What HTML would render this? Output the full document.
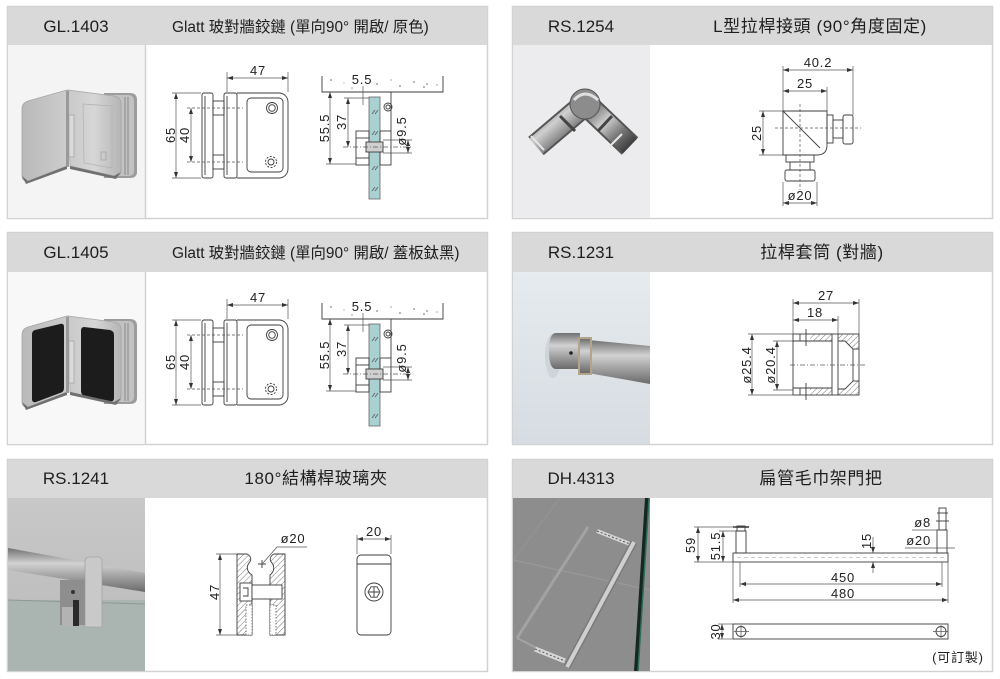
<!DOCTYPE html>
<html><head><meta charset="utf-8"><style>
html,body{margin:0;padding:0;background:#fff;}
body{width:1000px;height:679px;overflow:hidden;position:relative;}
svg{position:absolute;left:0;top:0;}
.h{font-family:"Liberation Sans","Noto Sans CJK TC",sans-serif;font-size:17px;fill:#1e1e1e;}
.d{font-family:"Liberation Sans","Noto Sans CJK TC",sans-serif;font-size:13px;fill:#222;letter-spacing:0.8px;}
.o{fill:none;stroke:#3c3c3c;stroke-width:0.9;}
.m{fill:none;stroke:#555;stroke-width:0.7;}
.c{fill:none;stroke:#555;stroke-width:0.7;stroke-dasharray:5,2,1,2;}
.k{fill:none;stroke:#555;stroke-width:0.7;stroke-dasharray:3,2;}
</style></head><body>
<svg width="1000" height="679" viewBox="0 0 1000 679">
<defs>
<marker id="a" viewBox="0 0 6 4" refX="6" refY="2" markerWidth="6" markerHeight="4" orient="auto-start-reverse" markerUnits="userSpaceOnUse"><path d="M0,0 L6,2 L0,4z" fill="#333"/></marker>
<pattern id="hp" width="4" height="4" patternUnits="userSpaceOnUse" patternTransform="rotate(45)"><rect width="4" height="4" fill="#fff"/><line x1="0" y1="0" x2="0" y2="4" stroke="#555" stroke-width="0.8"/></pattern>
<linearGradient id="st1" x1="0" y1="0" x2="1" y2="0"><stop offset="0" stop-color="#c9c9c9"/><stop offset="0.5" stop-color="#d6d6d6"/><stop offset="1" stop-color="#b5b5b5"/></linearGradient>
<linearGradient id="st2" x1="0" y1="0" x2="1" y2="0"><stop offset="0" stop-color="#b9b9b9"/><stop offset="1" stop-color="#cdcdcd"/></linearGradient>
<linearGradient id="rod" x1="0" y1="0" x2="0" y2="1"><stop offset="0" stop-color="#707070"/><stop offset="0.35" stop-color="#d2d2d2"/><stop offset="0.6" stop-color="#a9a9a9"/><stop offset="1" stop-color="#6a6a6a"/></linearGradient>
<linearGradient id="bg4" x1="0" y1="0" x2="0" y2="1"><stop offset="0" stop-color="#e6ebef"/><stop offset="1" stop-color="#d6dce1"/></linearGradient>
<linearGradient id="bg5" x1="0" y1="0" x2="0" y2="1"><stop offset="0" stop-color="#c8c8c8"/><stop offset="1" stop-color="#b9b9b9"/></linearGradient>
<linearGradient id="chr" x1="0" y1="0" x2="1" y2="1"><stop offset="0" stop-color="#5e5e5e"/><stop offset="0.4" stop-color="#cfcfcf"/><stop offset="0.7" stop-color="#7a7a7a"/><stop offset="1" stop-color="#3e3e3e"/></linearGradient>
</defs>

<!-- ============ PANELS ============ -->
<g>
<rect x="7.5" y="6.5" width="480" height="212" fill="#fff" stroke="#d2d2d2" stroke-width="1.5"/>
<rect x="8" y="7" width="479" height="38" fill="#d9d9d9"/>
<rect x="8" y="45" width="137" height="173" fill="#f4f4f4"/>
<line x1="145.5" y1="45" x2="145.5" y2="218" stroke="#d2d2d2" stroke-width="1.5"/>

<rect x="512.5" y="6.5" width="480" height="212" fill="#fff" stroke="#d2d2d2" stroke-width="1.5"/>
<rect x="513" y="7" width="479" height="38" fill="#d9d9d9"/>
<rect x="513" y="45" width="137" height="173" fill="#ececee"/>

<rect x="7.5" y="232.5" width="480" height="212" fill="#fff" stroke="#d2d2d2" stroke-width="1.5"/>
<rect x="8" y="233" width="479" height="39" fill="#d9d9d9"/>
<rect x="8" y="272" width="137" height="172" fill="#f8f8f8"/>
<line x1="145.5" y1="272" x2="145.5" y2="444" stroke="#d2d2d2" stroke-width="1.5"/>

<rect x="512.5" y="232.5" width="480" height="212" fill="#fff" stroke="#d2d2d2" stroke-width="1.5"/>
<rect x="513" y="233" width="479" height="39" fill="#d9d9d9"/>
<rect x="513" y="272" width="137" height="172" fill="url(#bg4)"/>

<rect x="7.5" y="459.5" width="480" height="212" fill="#fff" stroke="#d2d2d2" stroke-width="1.5"/>
<rect x="8" y="460" width="479" height="38" fill="#d9d9d9"/>
<rect x="8" y="498" width="137" height="173" fill="url(#bg5)"/>

<rect x="512.5" y="459.5" width="480" height="212" fill="#fff" stroke="#d2d2d2" stroke-width="1.5"/>
<rect x="513" y="460" width="479" height="38" fill="#d9d9d9"/>
<rect x="513" y="498" width="137" height="173" fill="#8d8d8d"/>
</g>

<!-- ============ HEADERS ============ -->
<text class="h" x="76" y="32" text-anchor="middle">GL.1403</text>
<text class="h" x="172" y="32" style="font-size:15.4px">Glatt 玻對牆鉸鏈 (單向90° 開啟/ 原色)</text>
<text class="h" x="581" y="32" text-anchor="middle">RS.1254</text>
<text class="h" x="820" y="32" text-anchor="middle" style="letter-spacing:0.6px">L型拉桿接頭 (90°角度固定)</text>

<text class="h" x="76" y="258" text-anchor="middle">GL.1405</text>
<text class="h" x="172" y="258" style="font-size:15.4px">Glatt 玻對牆鉸鏈 (單向90° 開啟/ 蓋板鈦黑)</text>
<text class="h" x="581" y="258" text-anchor="middle">RS.1231</text>
<text class="h" x="822" y="258" text-anchor="middle" style="letter-spacing:0.6px">拉桿套筒 (對牆)</text>

<text class="h" x="76" y="484" text-anchor="middle">RS.1241</text>
<text class="h" x="316" y="484" text-anchor="middle" style="letter-spacing:0.6px">180°結構桿玻璃夾</text>
<text class="h" x="581" y="484" text-anchor="middle">DH.4313</text>
<text class="h" x="821" y="484" text-anchor="middle" style="letter-spacing:0.6px">扁管毛巾架門把</text>

<!-- ============ PHOTO 1: GL.1403 hinge ============ -->
<g>
<path d="M104,93 H130 Q137,93 137,100 V172 Q137,178 130,178 H104 Z" fill="#9c9c9c"/>
<path d="M106,95 H128 Q134,95 134,101 V171 Q134,176 128,176 H106 Z" fill="#c2c2c2"/>
<line x1="125" y1="97" x2="125" y2="175" stroke="#8a8a8a"/>
<line x1="128" y1="97" x2="128" y2="175" stroke="#8a8a8a"/>
<path d="M68,90 L114,96 Q121,97 121,104 V170 Q121,177 114,176 L70,166 Z" fill="url(#st1)" stroke="#a5a5a5" stroke-width="0.8"/>
<path d="M83,104 L112,106 V168 L84,163 Z" fill="none" stroke="#b0b0b0" stroke-width="0.7"/>
<path d="M67,90 L28,101 Q22,103 22,109 V175 Q22,182 28,181 L67,166 Z" fill="url(#st2)" stroke="#a5a5a5" stroke-width="0.8"/>
<path d="M22,176 L26,184 L67,169 L67,166 L28,181 Z" fill="#707070"/>
<path d="M70,166 L70,169 L116,179 L121,172 L114,176 Z" fill="#707070"/>
<rect x="66" y="91" width="3" height="76" fill="#9a9a9a"/>
<rect x="69" y="115" width="5" height="42" fill="#dadada" stroke="#999" stroke-width="0.6"/>
<rect x="101" y="152" width="5" height="8" fill="none" stroke="#999" stroke-width="0.6"/>
</g>

<!-- ============ PHOTO 3: GL.1405 hinge (black) ============ -->
<g transform="translate(0,226)">
<path d="M104,93 H130 Q137,93 137,100 V172 Q137,178 130,178 H104 Z" fill="#9c9c9c"/>
<path d="M106,95 H128 Q134,95 134,101 V171 Q134,176 128,176 H106 Z" fill="#c2c2c2"/>
<line x1="125" y1="97" x2="125" y2="175" stroke="#8a8a8a"/>
<line x1="128" y1="97" x2="128" y2="175" stroke="#8a8a8a"/>
<path d="M68,90 L114,96 Q121,97 121,104 V170 Q121,177 114,176 L70,166 Z" fill="url(#st1)" stroke="#a5a5a5" stroke-width="0.8"/>
<path d="M84,101 L110,104 Q114,105 114,109 V172 Q114,176 110,175 L85,170 Q81,169 81,165 V105 Q81,101 84,101 Z" fill="#1c1c1c"/>
<path d="M67,90 L28,101 Q22,103 22,109 V175 Q22,182 28,181 L67,166 Z" fill="url(#st2)" stroke="#a5a5a5" stroke-width="0.8"/>
<path d="M35,104 L60,98 Q64,97 64,101 V162 Q64,166 60,167 L36,176 Q32,177 32,173 V108 Q32,105 35,104 Z" fill="#1c1c1c"/>
<path d="M22,176 L26,184 L67,169 L67,166 L28,181 Z" fill="#707070"/>
<path d="M70,166 L70,169 L116,179 L121,172 L114,176 Z" fill="#707070"/>
<rect x="66" y="91" width="3" height="76" fill="#9a9a9a"/>
<rect x="69" y="115" width="5" height="42" fill="#dadada" stroke="#999" stroke-width="0.6"/>
</g>

<!-- ============ PHOTO 2: RS.1254 elbow ============ -->
<g>
<line x1="583" y1="106" x2="536" y2="146" stroke="#555" stroke-width="24"/>
<line x1="583" y1="106" x2="536" y2="146" stroke="url(#chr)" stroke-width="20"/>
<line x1="588" y1="106" x2="630" y2="146" stroke="#555" stroke-width="24"/>
<line x1="588" y1="106" x2="630" y2="146" stroke="url(#chr)" stroke-width="20"/>
<circle cx="585" cy="104" r="15" fill="#8c8c8c" stroke="#555"/>
<path d="M574,100 Q585,88 598,100" fill="none" stroke="#e0e0e0" stroke-width="3"/>
<line x1="560" y1="116" x2="575" y2="131" stroke="#444" stroke-width="3"/>
<line x1="612" y1="116" x2="598" y2="131" stroke="#444" stroke-width="3"/>
<line x1="531" y1="136" x2="544" y2="150" stroke="#e6e6e6" stroke-width="2"/>
<line x1="622" y1="134" x2="609" y2="147" stroke="#e6e6e6" stroke-width="2"/>
</g>

<!-- ============ PHOTO 4: RS.1231 sleeve ============ -->
<g>
<ellipse cx="553" cy="356" rx="8" ry="22" fill="#c8ced3" opacity="0.7"/>
<path d="M588,340 L650,346 L650,384 L588,373 Z" fill="url(#rod)"/>
<path d="M556,333 H580 V369 H556 Q549,369 549,351 Q549,333 556,333 Z" fill="url(#rod)"/>
<path d="M578,337 H592 V375 H578 Z" fill="#b3a58c"/>
<rect x="580" y="339" width="10" height="34" fill="url(#rod)"/>
<circle cx="571" cy="353" r="1.8" fill="#222"/>
</g>

<!-- ============ PHOTO 5: RS.1241 clamp ============ -->
<g>
<rect x="8" y="600" width="137" height="71" fill="#aab4b1"/>
<line x1="8" y1="600" x2="145" y2="604" stroke="#8f9896" stroke-width="1"/>
<path d="M8,548 L145,573 L145,592 L8,570 Z" fill="url(#rod)"/>
<rect x="60" y="580" width="25" height="45" fill="#8e8e8e"/>
<rect x="62" y="607" width="11" height="19" fill="#b3b3b3"/>
<rect x="73" y="600" width="6" height="26" fill="#2a2a2a"/>
<path d="M85,562 Q85,557 90,557 H98 Q102,557 102,562 V627 H85 Z" fill="#c9c9c9" stroke="#999" stroke-width="0.6"/>
<circle cx="73" cy="592" r="2" fill="#333"/>
</g>

<!-- ============ PHOTO 6: DH.4313 handle ============ -->
<g>
<line x1="513" y1="560" x2="650" y2="590" stroke="#9a9a9a" stroke-width="1"/>
<line x1="560" y1="498" x2="513" y2="560" stroke="#959595" stroke-width="1"/>
<line x1="588" y1="527" x2="517" y2="638" stroke="#a3a3a3" stroke-width="3"/>
<line x1="517" y1="638" x2="560" y2="660" stroke="#a3a3a3" stroke-width="2"/>
<line x1="597" y1="531" x2="630" y2="544" stroke="#d6d6d6" stroke-width="4"/>
<line x1="597" y1="531" x2="630" y2="544" stroke="#555" stroke-width="1" stroke-dasharray="2,2"/>
<line x1="535" y1="649" x2="565" y2="661" stroke="#d6d6d6" stroke-width="5"/>
<line x1="535" y1="649" x2="565" y2="661" stroke="#555" stroke-width="1" stroke-dasharray="2,2"/>
<line x1="634" y1="542" x2="567" y2="667" stroke="#7a7a7a" stroke-width="7"/>
<line x1="634" y1="542" x2="567" y2="667" stroke="#cfcfcf" stroke-width="4"/>
<line x1="647" y1="498" x2="636" y2="671" stroke="#15271f" stroke-width="4"/>
<line x1="649" y1="498" x2="638" y2="671" stroke="#2c6b55" stroke-width="1.5"/>
</g>

<!-- ============ DRAWING: GL.1403 (row 1) ============ -->
<g>
<rect class="o" x="202" y="93" width="11" height="85" rx="2"/>
<line class="o" x1="205" y1="96" x2="205" y2="175"/>
<rect class="o" x="213" y="101" width="11" height="14"/>
<rect class="o" x="213" y="155" width="11" height="14"/>
<rect class="o" x="224" y="93" width="13" height="85" rx="2"/>
<line class="o" x1="227" y1="96" x2="227" y2="175"/>
<path class="o" d="M237,93 H279 A9,9 0 0 1 288,102 V169 A9,9 0 0 1 279,178 H237"/>
<rect class="o" x="247" y="98" width="36" height="74" rx="4"/>
<circle class="o" cx="272" cy="108" r="5.5"/><circle class="o" cx="272" cy="108" r="3.3"/>
<circle class="o" cx="271" cy="162" r="5.5" stroke-dasharray="2,1.5"/><circle class="o" cx="271" cy="162" r="3"/>
<line class="m" x1="227" y1="72" x2="227" y2="92"/>
<line class="m" x1="288" y1="72" x2="288" y2="92"/>
<line class="m" x1="227" y1="78" x2="288" y2="78" marker-start="url(#a)" marker-end="url(#a)"/>
<text class="d" x="258" y="75" text-anchor="middle">47</text>
<line class="m" x1="172" y1="93" x2="201" y2="93"/>
<line class="m" x1="172" y1="178" x2="201" y2="178"/>
<line class="m" x1="176" y1="93" x2="176" y2="178" marker-start="url(#a)" marker-end="url(#a)"/>
<text class="d" transform="translate(175,135) rotate(-90)" text-anchor="middle">65</text>
<line class="k" x1="187" y1="108" x2="243" y2="108"/>
<line class="k" x1="187" y1="162" x2="243" y2="162"/>
<line class="m" x1="191" y1="108" x2="191" y2="162" marker-start="url(#a)" marker-end="url(#a)"/>
<text class="d" transform="translate(189,135) rotate(-90)" text-anchor="middle">40</text>
<path class="o" d="M322,76 V92 H443 V76"/>
<g fill="#666"><circle cx="331" cy="80" r="0.8"/><circle cx="377" cy="84" r="0.8"/><circle cx="400" cy="86" r="0.8"/><circle cx="414" cy="82" r="0.8"/><circle cx="424" cy="87" r="0.8"/><circle cx="427" cy="84" r="0.8"/><circle cx="352" cy="88" r="0.6"/><circle cx="391" cy="80" r="0.6"/><circle cx="437" cy="85" r="0.6"/><circle cx="344" cy="83" r="0.5"/></g>
<rect x="369" y="97" width="11" height="102" fill="#a9d1d1" stroke="#666" stroke-width="0.8"/>
<g stroke="#555" stroke-width="0.7"><line x1="372" y1="114" x2="375" y2="110"/><line x1="375" y1="114" x2="378" y2="110"/><line x1="372" y1="135" x2="375" y2="131"/><line x1="375" y1="135" x2="378" y2="131"/><line x1="372" y1="170" x2="375" y2="166"/><line x1="375" y1="170" x2="378" y2="166"/><line x1="372" y1="191" x2="375" y2="187"/><line x1="375" y1="191" x2="378" y2="187"/></g>
<circle class="o" cx="388" cy="107" r="4"/><circle class="o" cx="388" cy="107" r="2"/>
<line class="o" x1="391" y1="92" x2="391" y2="131"/>
<rect class="o" x="380" y="131" width="11" height="34"/>
<rect class="o" x="356" y="131" width="13" height="34"/>
<line class="o" x1="356" y1="138" x2="369" y2="138"/>
<line class="o" x1="356" y1="158" x2="369" y2="158"/>
<rect x="366" y="142" width="17" height="10" fill="#d0d0d0" stroke="#3c3c3c" stroke-width="0.9"/>
<line class="c" x1="343" y1="147" x2="413" y2="147"/>
<line class="m" x1="326" y1="164" x2="356" y2="164"/>
<line class="m" x1="330" y1="92" x2="330" y2="164" marker-start="url(#a)" marker-end="url(#a)"/>
<text class="d" transform="translate(329,128) rotate(-90)" text-anchor="middle">55.5</text>
<line class="m" x1="344" y1="98" x2="369" y2="98"/>
<line class="m" x1="348" y1="98" x2="348" y2="147" marker-start="url(#a)" marker-end="url(#a)"/>
<text class="d" transform="translate(346,122) rotate(-90)" text-anchor="middle">37</text>
<line class="m" x1="363" y1="86" x2="363" y2="105"/>
<text class="d" x="362" y="84" text-anchor="middle">5.5</text>
<line class="m" x1="383" y1="140" x2="412" y2="140"/>
<line class="m" x1="383" y1="153" x2="412" y2="153"/>
<line class="m" x1="408" y1="140" x2="408" y2="153" marker-start="url(#a)" marker-end="url(#a)"/>
<text class="d" transform="translate(406,131) rotate(-90)" text-anchor="middle">ø9.5</text>
</g>

<!-- ============ DRAWING: GL.1405 (row 2) ============ -->
<g transform="translate(0,227)">
<rect class="o" x="202" y="93" width="11" height="85" rx="2"/>
<line class="o" x1="205" y1="96" x2="205" y2="175"/>
<rect class="o" x="213" y="101" width="11" height="14"/>
<rect class="o" x="213" y="155" width="11" height="14"/>
<rect class="o" x="224" y="93" width="13" height="85" rx="2"/>
<line class="o" x1="227" y1="96" x2="227" y2="175"/>
<path class="o" d="M237,93 H279 A9,9 0 0 1 288,102 V169 A9,9 0 0 1 279,178 H237"/>
<rect class="o" x="247" y="98" width="36" height="74" rx="4"/>
<circle class="o" cx="272" cy="108" r="5.5"/><circle class="o" cx="272" cy="108" r="3.3"/>
<circle class="o" cx="271" cy="162" r="5.5" stroke-dasharray="2,1.5"/><circle class="o" cx="271" cy="162" r="3"/>
<line class="m" x1="227" y1="72" x2="227" y2="92"/>
<line class="m" x1="288" y1="72" x2="288" y2="92"/>
<line class="m" x1="227" y1="78" x2="288" y2="78" marker-start="url(#a)" marker-end="url(#a)"/>
<text class="d" x="258" y="75" text-anchor="middle">47</text>
<line class="m" x1="172" y1="93" x2="201" y2="93"/>
<line class="m" x1="172" y1="178" x2="201" y2="178"/>
<line class="m" x1="176" y1="93" x2="176" y2="178" marker-start="url(#a)" marker-end="url(#a)"/>
<text class="d" transform="translate(175,135) rotate(-90)" text-anchor="middle">65</text>
<line class="k" x1="187" y1="108" x2="243" y2="108"/>
<line class="k" x1="187" y1="162" x2="243" y2="162"/>
<line class="m" x1="191" y1="108" x2="191" y2="162" marker-start="url(#a)" marker-end="url(#a)"/>
<text class="d" transform="translate(189,135) rotate(-90)" text-anchor="middle">40</text>
<path class="o" d="M322,76 V92 H443 V76"/>
<g fill="#666"><circle cx="331" cy="80" r="0.8"/><circle cx="377" cy="84" r="0.8"/><circle cx="400" cy="86" r="0.8"/><circle cx="414" cy="82" r="0.8"/><circle cx="424" cy="87" r="0.8"/><circle cx="427" cy="84" r="0.8"/><circle cx="352" cy="88" r="0.6"/><circle cx="391" cy="80" r="0.6"/><circle cx="437" cy="85" r="0.6"/><circle cx="344" cy="83" r="0.5"/></g>
<rect x="369" y="97" width="11" height="102" fill="#a9d1d1" stroke="#666" stroke-width="0.8"/>
<g stroke="#555" stroke-width="0.7"><line x1="372" y1="114" x2="375" y2="110"/><line x1="375" y1="114" x2="378" y2="110"/><line x1="372" y1="135" x2="375" y2="131"/><line x1="375" y1="135" x2="378" y2="131"/><line x1="372" y1="170" x2="375" y2="166"/><line x1="375" y1="170" x2="378" y2="166"/><line x1="372" y1="191" x2="375" y2="187"/><line x1="375" y1="191" x2="378" y2="187"/></g>
<circle class="o" cx="388" cy="107" r="4"/><circle class="o" cx="388" cy="107" r="2"/>
<line class="o" x1="391" y1="92" x2="391" y2="131"/>
<rect class="o" x="380" y="131" width="11" height="34"/>
<rect class="o" x="356" y="131" width="13" height="34"/>
<line class="o" x1="356" y1="138" x2="369" y2="138"/>
<line class="o" x1="356" y1="158" x2="369" y2="158"/>
<rect x="366" y="142" width="17" height="10" fill="#d0d0d0" stroke="#3c3c3c" stroke-width="0.9"/>
<line class="c" x1="343" y1="147" x2="413" y2="147"/>
<line class="m" x1="326" y1="164" x2="356" y2="164"/>
<line class="m" x1="330" y1="92" x2="330" y2="164" marker-start="url(#a)" marker-end="url(#a)"/>
<text class="d" transform="translate(329,128) rotate(-90)" text-anchor="middle">55.5</text>
<line class="m" x1="344" y1="98" x2="369" y2="98"/>
<line class="m" x1="348" y1="98" x2="348" y2="147" marker-start="url(#a)" marker-end="url(#a)"/>
<text class="d" transform="translate(346,122) rotate(-90)" text-anchor="middle">37</text>
<line class="m" x1="363" y1="86" x2="363" y2="105"/>
<text class="d" x="362" y="84" text-anchor="middle">5.5</text>
<line class="m" x1="383" y1="140" x2="412" y2="140"/>
<line class="m" x1="383" y1="153" x2="412" y2="153"/>
<line class="m" x1="408" y1="140" x2="408" y2="153" marker-start="url(#a)" marker-end="url(#a)"/>
<text class="d" transform="translate(406,131) rotate(-90)" text-anchor="middle">ø9.5</text>
</g>

<!-- ============ DRAWING: RS.1254 ============ -->
<g>
<line class="m" x1="783" y1="66" x2="783" y2="111"/>
<line class="m" x1="853" y1="66" x2="853" y2="115"/>
<line class="m" x1="827" y1="87" x2="827" y2="111"/>
<line class="m" x1="783" y1="70" x2="853" y2="70" marker-start="url(#a)" marker-end="url(#a)"/>
<text class="d" x="818" y="67" text-anchor="middle">40.2</text>
<line class="m" x1="783" y1="91" x2="827" y2="91" marker-start="url(#a)" marker-end="url(#a)"/>
<text class="d" x="805" y="88" text-anchor="middle">25</text>
<line class="m" x1="759" y1="111" x2="783" y2="111"/>
<line class="m" x1="759" y1="155" x2="783" y2="155"/>
<line class="m" x1="763" y1="111" x2="763" y2="155" marker-start="url(#a)" marker-end="url(#a)"/>
<text class="d" transform="translate(761,133) rotate(-90)" text-anchor="middle">25</text>
<path class="o" d="M783,111 H827 V145 Q827,155 817,155 H783 Z"/>
<line class="o" x1="783" y1="111" x2="820" y2="148"/>
<rect class="o" x="827" y="115" width="6" height="28"/>
<rect class="o" x="833" y="120" width="10" height="18"/>
<rect class="o" x="843" y="115" width="10" height="29" rx="2"/>
<rect class="o" x="786" y="155" width="28" height="7"/>
<rect class="o" x="790" y="162" width="20" height="8"/>
<rect class="o" x="785" y="170" width="30" height="11" rx="2"/>
<line class="k" x1="775" y1="128" x2="861" y2="128"/>
<line class="k" x1="800" y1="104" x2="800" y2="190"/>
<line class="m" x1="783" y1="182" x2="783" y2="206"/>
<line class="m" x1="817" y1="182" x2="817" y2="206"/>
<line class="m" x1="783" y1="203" x2="817" y2="203" marker-start="url(#a)" marker-end="url(#a)"/>
<text class="d" x="800" y="200" text-anchor="middle">ø20</text>
</g>

<!-- ============ DRAWING: RS.1231 ============ -->
<g>
<line class="m" x1="793" y1="299" x2="793" y2="334"/>
<line class="m" x1="859" y1="299" x2="859" y2="334"/>
<line class="m" x1="838" y1="316" x2="838" y2="334"/>
<line class="m" x1="793" y1="303" x2="859" y2="303" marker-start="url(#a)" marker-end="url(#a)"/>
<text class="d" x="826" y="300" text-anchor="middle">27</text>
<line class="m" x1="793" y1="320" x2="838" y2="320" marker-start="url(#a)" marker-end="url(#a)"/>
<text class="d" x="815" y="317" text-anchor="middle">18</text>
<line class="m" x1="748" y1="334" x2="793" y2="334"/>
<line class="m" x1="748" y1="395" x2="793" y2="395"/>
<line class="m" x1="773" y1="341" x2="793" y2="341"/>
<line class="m" x1="773" y1="390" x2="793" y2="390"/>
<line class="m" x1="752" y1="334" x2="752" y2="395" marker-start="url(#a)" marker-end="url(#a)"/>
<text class="d" transform="translate(751,365) rotate(-90)" text-anchor="middle">ø25.4</text>
<line class="m" x1="777" y1="341" x2="777" y2="390" marker-start="url(#a)" marker-end="url(#a)"/>
<text class="d" transform="translate(775,365) rotate(-90)" text-anchor="middle">ø20.4</text>
<rect x="810" y="334" width="22" height="7" fill="url(#hp)"/>
<rect x="810" y="388" width="22" height="7" fill="url(#hp)"/>
<path d="M838,334 H859 V349 H853 L845,341 H838 Z" fill="url(#hp)"/>
<path d="M838,395 H859 V381 H853 L845,389 H838 Z" fill="url(#hp)"/>
<rect class="o" x="793" y="334" width="66" height="61"/>
<line class="o" x1="793" y1="341" x2="832" y2="341"/>
<line class="o" x1="793" y1="388" x2="832" y2="388"/>
<line class="o" x1="832" y1="334" x2="832" y2="395"/>
<line class="o" x1="838" y1="334" x2="838" y2="395"/>
<path class="o" d="M838,341 H845 L853,349 V381 L845,389 H838"/>
<line class="o" x1="853" y1="349" x2="859" y2="349"/>
<line class="o" x1="853" y1="381" x2="859" y2="381"/>
<line class="o" x1="806" y1="329" x2="806" y2="346"/>
<line class="o" x1="806" y1="383" x2="806" y2="400"/>
<line class="o" x1="800" y1="334" x2="800" y2="341"/>
<line class="o" x1="800" y1="388" x2="800" y2="395"/>
<line class="c" x1="790" y1="365" x2="866" y2="365"/>
</g>

<!-- ============ DRAWING: RS.1241 ============ -->
<g>
<line class="m" x1="216" y1="554" x2="237" y2="554"/>
<line class="m" x1="216" y1="635" x2="237" y2="635"/>
<line class="m" x1="220" y1="554" x2="220" y2="635" marker-start="url(#a)" marker-end="url(#a)"/>
<text class="d" transform="translate(219,592) rotate(-90)" text-anchor="middle">47</text>
<path d="M237,554 H247 C251,556 252,560 249,563 C246,567 247,572 252,575 V635 H237 Z" fill="url(#hp)" stroke="#3c3c3c" stroke-width="0.9"/>
<path d="M285,554 H274 C270,556 269,560 272,563 C275,567 274,572 270,575 V635 H285 Z" fill="url(#hp)" stroke="#3c3c3c" stroke-width="0.9"/>
<rect x="246" y="605" width="6" height="30" fill="#fff" stroke="#3c3c3c" stroke-width="0.7" stroke-dasharray="1.5,1.5"/>
<rect x="270" y="605" width="6" height="30" fill="#fff" stroke="#3c3c3c" stroke-width="0.7" stroke-dasharray="1.5,1.5"/>
<rect x="240" y="583" width="12" height="18" fill="#fff" stroke="#3c3c3c" stroke-width="0.9"/>
<path class="o" d="M243,588 L248,588 L248,596 L243,596"/>
<rect x="252" y="585" width="30" height="14" fill="#fff" stroke="#3c3c3c" stroke-width="0.9"/>
<path class="o" d="M262,560 V568 M258,564 H266"/>
<path class="m" d="M263,563 L277,547 H307"/>
<text class="d" x="293" y="543" text-anchor="middle">ø20</text>
<rect class="o" x="357" y="555" width="34" height="80" rx="4"/>
<line class="o" x1="357" y1="564" x2="391" y2="564"/>
<circle class="o" cx="374" cy="592" r="9"/>
<path class="o" d="M380,592 L377,597.2 L371,597.2 L368,592 L371,586.8 L377,586.8 Z"/>
<path class="o" d="M374,587 V597 M369,592 H379"/>
<line class="m" x1="357" y1="535" x2="357" y2="554"/>
<line class="m" x1="391" y1="535" x2="391" y2="554"/>
<line class="m" x1="357" y1="539" x2="391" y2="539" marker-start="url(#a)" marker-end="url(#a)"/>
<text class="d" x="374" y="536" text-anchor="middle">20</text>
</g>

<!-- ============ DRAWING: DH.4313 ============ -->
<g>
<rect class="o" x="733" y="553" width="215" height="9"/>
<line x1="737" y1="557.5" x2="945" y2="557.5" stroke="#999" stroke-width="0.6" stroke-dasharray="4,3"/>
<rect class="o" x="736" y="531" width="10" height="22"/>
<rect class="o" x="737" y="526" width="8" height="5"/>
<line x1="733" y1="527" x2="749" y2="527" stroke="#3c3c3c" stroke-width="1.6"/>
<rect class="o" x="937" y="530" width="10" height="23"/>
<rect class="o" x="939" y="508" width="7" height="22"/>
<line class="o" x1="937" y1="513" x2="948" y2="513"/>
<line class="o" x1="936" y1="521" x2="949" y2="521"/>
<line class="m" x1="694" y1="527" x2="736" y2="527"/>
<line class="m" x1="694" y1="562" x2="733" y2="562"/>
<line class="m" x1="719" y1="531" x2="736" y2="531"/>
<line class="m" x1="698" y1="527" x2="698" y2="562" marker-start="url(#a)" marker-end="url(#a)"/>
<text class="d" transform="translate(695,545) rotate(-90)" text-anchor="middle">59</text>
<line class="m" x1="723" y1="531" x2="723" y2="562" marker-start="url(#a)" marker-end="url(#a)"/>
<text class="d" transform="translate(720,546) rotate(-90)" text-anchor="middle">51.5</text>
<line class="m" x1="873" y1="537" x2="873" y2="553" marker-end="url(#a)"/>
<line class="m" x1="873" y1="573" x2="873" y2="562" marker-end="url(#a)"/>
<text class="d" transform="translate(871,541) rotate(-90)" text-anchor="middle">15</text>
<text class="d" x="931" y="527" text-anchor="end">ø8</text>
<line class="m" x1="912" y1="530" x2="939" y2="530"/>
<text class="d" x="931" y="545" text-anchor="end">ø20</text>
<line class="m" x1="905" y1="548" x2="955" y2="548"/>
<line class="m" x1="740" y1="562" x2="740" y2="587"/>
<line class="m" x1="942" y1="562" x2="942" y2="587"/>
<line class="m" x1="740" y1="584" x2="942" y2="584" marker-start="url(#a)" marker-end="url(#a)"/>
<text class="d" x="843" y="582" text-anchor="middle">450</text>
<line class="m" x1="733" y1="562" x2="733" y2="603"/>
<line class="m" x1="948" y1="562" x2="948" y2="603"/>
<line class="m" x1="733" y1="600" x2="948" y2="600" marker-start="url(#a)" marker-end="url(#a)"/>
<text class="d" x="843" y="598" text-anchor="middle">480</text>
<rect class="o" x="733" y="624" width="215" height="15"/>
<circle class="o" cx="741" cy="631.5" r="5"/>
<circle class="o" cx="941" cy="631.5" r="5"/>
<path class="m" d="M734,631.5 H749 M741,625 V638 M933,631.5 H948 M941,625 V638"/>
<line class="m" x1="718" y1="624" x2="733" y2="624"/>
<line class="m" x1="718" y1="639" x2="733" y2="639"/>
<line class="m" x1="722" y1="624" x2="722" y2="639" marker-start="url(#a)" marker-end="url(#a)"/>
<text class="d" transform="translate(720,631.5) rotate(-90)" text-anchor="middle">30</text>
<text class="d" x="958" y="662" text-anchor="middle">(可訂製)</text>
</g>
</svg>
</body></html>
